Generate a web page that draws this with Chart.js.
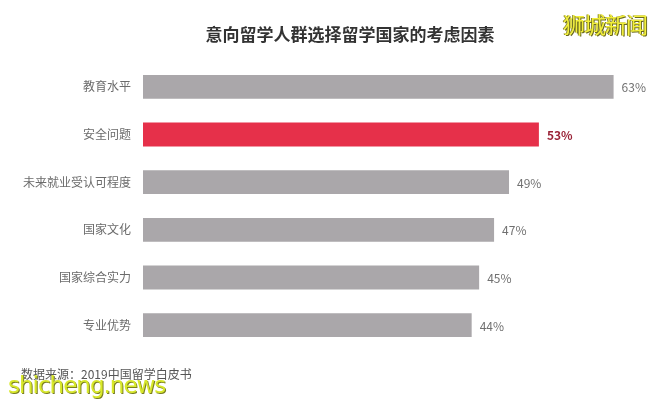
<!DOCTYPE html>
<html>
<head>
<meta charset="utf-8">
<script src="https://cdn.jsdelivr.net/npm/chart.js@4/dist/chart.umd.min.js"></script>
<style>
  html, body { margin: 0; padding: 0; background: #ffffff; }
  #wrap { position: relative; width: 666px; height: 404px; overflow: hidden; }
  canvas { position: absolute; left: 0; top: 0; }
  .note { position: absolute; font-family: "Noto Sans CJK SC", sans-serif; white-space: nowrap; }
  #source { left: 21px; top: 365px; font-size: 12px; color: #555555; }
  #brand-cn { left: 563px; top: 7px; font-size: 22px; color: #f2ef3a; letter-spacing: -1px;
              text-shadow: 1px 1px 0 #6b6a20, -1px 0 0 #8a8830; }
  #brand-en { left: 8px; top: 372px; font-size: 23px; color: #d8e82a; font-family: "DejaVu Sans", sans-serif;
              letter-spacing: -1px; text-shadow: 1px 1px 0 #7a7f20; }
</style>
</head>
<body>
<div id="wrap">
  <canvas id="c" width="666" height="404"></canvas>
  <div class="note" id="source">数据来源：2019中国留学白皮书</div>
  <div class="note" id="brand-cn">狮城新闻</div>
  <div class="note" id="brand-en">shicheng.news</div>
</div>
<script>
const chartTitle = '意向留学人群选择留学国家的考虑因素';
const factors = ['教育水平', '安全问题', '未来就业受认可程度', '国家文化', '国家综合实力', '专业优势'];
const shares = [63, 53, 49, 47, 45, 44];
const highlightIndex = 1;

const grayBar = '#aaa7aa';
const redBar = '#e6304a';

const barColors = factors.map((_, i) => i === highlightIndex ? redBar : grayBar);

// Title and end-of-bar value labels
const annotate = {
  id: 'annotate',
  afterDatasetsDraw(chart) {
    const ctx = chart.ctx;
    ctx.save();
    ctx.font = 'bold 17px "Noto Sans CJK SC", sans-serif';
    ctx.fillStyle = '#333333';
    ctx.textAlign = 'center';
    ctx.textBaseline = 'middle';
    ctx.fillText(chartTitle, 350, 35);

    const meta = chart.getDatasetMeta(0);
    meta.data.forEach((bar, i) => {
      const hl = i === highlightIndex;
      ctx.font = (hl ? 'bold ' : '') + '12px "Noto Sans CJK SC", sans-serif';
      ctx.fillStyle = hl ? '#9a2236' : '#707070';
      ctx.textAlign = 'left';
      ctx.textBaseline = 'middle';
      ctx.fillText(shares[i] + '%', bar.x + 8, bar.y + 1);
    });
    ctx.restore();
  }
};

new Chart(document.getElementById('c'), {
  type: 'bar',
  data: {
    labels: factors,
    datasets: [{
      data: shares,
      backgroundColor: barColors,
      borderWidth: 0,
      barPercentage: 0.5,
      categoryPercentage: 1.0
    }]
  },
  options: {
    indexAxis: 'y',
    responsive: false,
    animation: false,
    devicePixelRatio: 1,
    layout: { padding: { top: 63, bottom: 55, left: 0, right: 30 } },
    plugins: {
      legend: { display: false },
      tooltip: { enabled: false },
      title: { display: false }
    },
    scales: {
      x: {
        display: false,
        min: 0,
        max: 66
      },
      y: {
        afterFit(scale) { scale.width = 143; },
        grid: { display: false, drawTicks: false },
        border: { display: false },
        ticks: {
          padding: 12,
          color: '#6b6b6b',
          font: { family: '"Noto Sans CJK SC", sans-serif', size: 12 }
        }
      }
    }
  },
  plugins: [annotate]
});
</script>
</body>
</html>
